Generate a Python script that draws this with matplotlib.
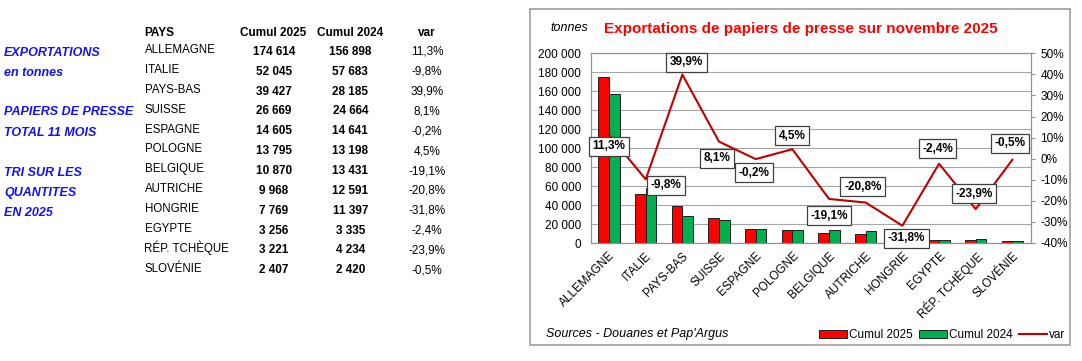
import numpy as np
import matplotlib.pyplot as plt
from matplotlib.patches import Rectangle, Patch
from matplotlib.lines import Line2D
from matplotlib.ticker import FuncFormatter, MultipleLocator

plt.rcParams['font.family'] = ['Liberation Sans', 'DejaVu Sans']

# data
countries = ['ALLEMAGNE', 'ITALIE', 'PAYS-BAS', 'SUISSE', 'ESPAGNE', 'POLOGNE',
             'BELGIQUE', 'AUTRICHE', 'HONGRIE', 'EGYPTE', 'RÉP. TCHÈQUE', 'SLOVÉNIE']
cumul_2025 = [174614, 52045, 39427, 26669, 14605, 13795, 10870, 9968, 7769, 3256, 3221, 2407]
cumul_2024 = [156898, 57683, 28185, 24664, 14641, 13198, 13431, 12591, 11397, 3335, 4234, 2420]
var_pct = [11.3, -9.8, 39.9, 8.1, -0.2, 4.5, -19.1, -20.8, -31.8, -2.4, -23.9, -0.5]

side_notes = [('EXPORTATIONS', 51), ('en tonnes', 71.5), ('PAPIERS DE PRESSE', 111),
              ('TOTAL 11 MOIS', 131), ('TRI SUR LES', 171.5), ('QUANTITES', 191), ('EN 2025', 211)]

# label placement (pixels, relative to each point)
label_dx = [0, 20, 4, -2, -2, 0, 0, -3, 4, -1.5, -2, -2]
label_dy = [-11.5, -6, 12.5, -16.5, -13.5, 13.5, -17, 16, -12.5, 15, 15.5, 16.5]

W, H = 1082, 361
fig = plt.figure(figsize=(W / 100, H / 100), dpi=100)


def fx(x):
    return x / W


def fy(y):
    return 1 - y / H


def fmt_thousands(v):
    return f'{int(round(v)):,}'.replace(',', ' ')


def fmt_pct(v):
    return f'{v:.1f}%'.replace('.', ',')


# ---- left table ----
blue = '#1010FF'
for txt, yc in side_notes:
    fig.text(fx(4), fy(yc + 4.5), txt, color=blue, fontsize=9, fontweight='bold',
             fontstyle='italic', va='baseline', ha='left')

fig.text(fx(144.5), fy(36), 'PAYS', fontsize=8.5, fontweight='bold', va='baseline')
fig.text(fx(273.5), fy(36), 'Cumul 2025', fontsize=8.5, fontweight='bold', va='baseline', ha='center')
fig.text(fx(350), fy(36), 'Cumul 2024', fontsize=8.5, fontweight='bold', va='baseline', ha='center')
fig.text(fx(427), fy(36), 'var', fontsize=8.5, fontweight='bold', va='baseline', ha='center')

for i, name in enumerate(countries):
    yb = 53.2 + 19.85 * i
    fig.text(fx(144.5), fy(yb), name, fontsize=8.3, va='baseline')
    fig.text(fx(273.8), fy(yb + 1.7), fmt_thousands(cumul_2025[i]), fontsize=8.5,
             fontweight='bold', va='baseline', ha='center')
    fig.text(fx(350.3), fy(yb + 1.7), fmt_thousands(cumul_2024[i]), fontsize=8.5,
             fontweight='bold', va='baseline', ha='center')
    fig.text(fx(427), fy(yb + 1.7), fmt_pct(var_pct[i]), fontsize=8.5,
             va='baseline', ha='center')

# ---- chart ----
fig.add_artist(Rectangle((fx(530), fy(345)), 540 / W, 336 / H, transform=fig.transFigure,
                         fill=False, ec='#A6A6A6', lw=1.3))

ax = fig.add_axes([fx(590.7), fy(243), 440 / W, (243 - 53.3) / H])
x = np.arange(len(countries))
bw = 0.29
ax.bar(x - bw / 2, cumul_2025, bw, color='#FF0000', edgecolor='#202020', lw=0.7, label='Cumul 2025')
ax.bar(x + bw / 2, cumul_2024, bw, color='#00B050', edgecolor='#202020', lw=0.7, label='Cumul 2024')
ax.set_xlim(-0.5, len(countries) - 0.5)
ax.set_ylim(0, 200000)
ax.yaxis.set_major_locator(MultipleLocator(20000))
ax.yaxis.set_major_formatter(FuncFormatter(lambda v, p: fmt_thousands(v)))
ax.grid(axis='y', color='#A6A6A6', lw=0.8)
ax.set_axisbelow(True)
ax.set_xticks(x)
ax.set_xticklabels(countries, rotation=45, ha='right', rotation_mode='anchor', fontsize=8.5)
ax.tick_params(axis='x', length=0, pad=5)
ax.tick_params(axis='y', length=0, pad=7, labelsize=8.5)
for s in ax.spines.values():
    s.set_color('#909090')
    s.set_linewidth(0.8)

ax2 = ax.twinx()
ax2.plot(x, var_pct, color='#C00000', lw=1.5, label='var')
ax2.set_ylim(-40, 50)
ax2.yaxis.set_major_locator(MultipleLocator(10))
ax2.yaxis.set_major_formatter(FuncFormatter(lambda v, p: f'{v:.0f}%'))
ax2.tick_params(axis='y', length=3, color='#909090', pad=4, labelsize=8.5)
for s in ax2.spines.values():
    s.set_color('#909090')
    s.set_linewidth(0.8)

for i, v in enumerate(var_pct):
    ax2.annotate(fmt_pct(v), (x[i], v), xytext=(label_dx[i], label_dy[i]),
                 textcoords='offset pixels', ha='center', va='center',
                 fontsize=8.5, fontweight='bold',
                 bbox=dict(boxstyle='square,pad=0.3', fc='white', ec='#404040', lw=0.9))

fig.text(fx(550), fy(31), 'tonnes', fontsize=9, fontstyle='italic', va='baseline')
fig.text(fx(604), fy(33), 'Exportations de papiers de presse sur novembre 2025',
         fontsize=11, fontweight='bold', color='#FF0000', va='baseline')
fig.text(fx(546), fy(337.5), "Sources - Douanes et Pap'Argus", fontsize=9,
         fontstyle='italic', va='baseline')

handles = [Patch(fc='#FF0000', ec='#202020', lw=0.7),
           Patch(fc='#00B050', ec='#202020', lw=0.7),
           Line2D([], [], color='#C00000', lw=1.5)]
fig.legend(handles, ['Cumul 2025', 'Cumul 2024', 'var'], loc='lower right',
           bbox_to_anchor=(fx(1065), fy(341)), ncol=3, frameon=False, fontsize=8.5,
           handlelength=2.4, handleheight=0.6, handletextpad=0.15, columnspacing=0.5,
           borderpad=0, borderaxespad=0)

fig.savefig('out.png', dpi=100)
